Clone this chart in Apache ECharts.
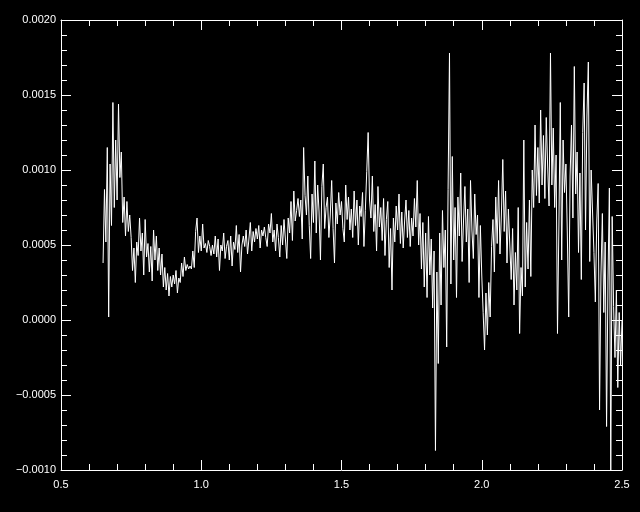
<!DOCTYPE html>
<html>
<head>
<meta charset="utf-8">
<script src="https://cdn.jsdelivr.net/npm/echarts@6/dist/echarts.min.js"></script>
<style>
html,body{margin:0;padding:0;background:#000;}
#chart{width:640px;height:512px;}
</style>
</head>
<body>
<div id="chart"></div>
<script>
// Wavelength samples (x) and measured signal (y)
var xValues = [
0.650,0.655,0.660,0.665,0.670,0.675,0.680,0.685,0.690,0.695,
0.700,0.705,0.710,0.715,0.720,0.725,0.730,0.735,0.740,0.745,
0.750,0.755,0.760,0.765,0.770,0.775,0.780,0.785,0.790,0.795,
0.800,0.805,0.810,0.815,0.820,0.825,0.830,0.835,0.840,0.845,
0.850,0.855,0.860,0.865,0.870,0.875,0.880,0.885,0.890,0.895,
0.900,0.905,0.910,0.915,0.920,0.925,0.930,0.935,0.940,0.945,
0.950,0.955,0.960,0.965,0.970,0.975,0.980,0.985,0.990,0.995,
1.000,1.005,1.010,1.015,1.020,1.025,1.030,1.035,1.040,1.045,
1.050,1.055,1.060,1.065,1.070,1.075,1.080,1.085,1.090,1.095,
1.100,1.105,1.110,1.115,1.120,1.125,1.130,1.135,1.140,1.145,
1.150,1.155,1.160,1.165,1.170,1.175,1.180,1.185,1.190,1.195,
1.200,1.205,1.210,1.215,1.220,1.225,1.230,1.235,1.240,1.245,
1.250,1.255,1.260,1.265,1.270,1.275,1.280,1.285,1.290,1.295,
1.300,1.305,1.310,1.315,1.320,1.325,1.330,1.335,1.340,1.345,
1.350,1.355,1.360,1.365,1.370,1.375,1.380,1.385,1.390,1.395,
1.400,1.405,1.410,1.415,1.420,1.425,1.430,1.435,1.440,1.445,
1.450,1.455,1.460,1.465,1.470,1.475,1.480,1.485,1.490,1.495,
1.500,1.505,1.510,1.515,1.520,1.525,1.530,1.535,1.540,1.545,
1.550,1.555,1.560,1.565,1.570,1.575,1.580,1.585,1.590,1.595,
1.600,1.605,1.610,1.615,1.620,1.625,1.630,1.635,1.640,1.645,
1.650,1.655,1.660,1.665,1.670,1.675,1.680,1.685,1.690,1.695,
1.700,1.705,1.710,1.715,1.720,1.725,1.730,1.735,1.740,1.745,
1.750,1.755,1.760,1.765,1.770,1.775,1.780,1.785,1.790,1.795,
1.800,1.805,1.810,1.815,1.820,1.825,1.830,1.835,1.840,1.845,
1.850,1.855,1.860,1.865,1.870,1.875,1.880,1.885,1.890,1.895,
1.900,1.905,1.910,1.915,1.920,1.925,1.930,1.935,1.940,1.945,
1.950,1.955,1.960,1.965,1.970,1.975,1.980,1.985,1.990,1.995,
2.000,2.005,2.010,2.015,2.020,2.025,2.030,2.035,2.040,2.045,
2.050,2.055,2.060,2.065,2.070,2.075,2.080,2.085,2.090,2.095,
2.100,2.105,2.110,2.115,2.120,2.125,2.130,2.135,2.140,2.145,
2.150,2.155,2.160,2.165,2.170,2.175,2.180,2.185,2.190,2.195,
2.200,2.205,2.210,2.215,2.220,2.225,2.230,2.235,2.240,2.245,
2.250,2.255,2.260,2.265,2.270,2.275,2.280,2.285,2.290,2.295,
2.300,2.305,2.310,2.315,2.320,2.325,2.330,2.335,2.340,2.345,
2.350,2.355,2.360,2.365,2.370,2.375,2.380,2.385,2.390,2.395,
2.400,2.405,2.410,2.415,2.420,2.425,2.430,2.435,2.440,2.445,
2.450,2.455,2.460,2.465,2.470,2.475,2.480,2.485,2.490,2.495,2.500
];
var yValues = [
3.8e-4,8.7e-4,5.2e-4,11.5e-4,0.2e-4,10.4e-4,6.3e-4,14.5e-4,7.5e-4,12.0e-4,
8.0e-4,14.4e-4,9.5e-4,11.2e-4,6.5e-4,8.2e-4,5.6e-4,7.9e-4,5.9e-4,7.0e-4,
5.5e-4,3.3e-4,4.8e-4,2.5e-4,5.2e-4,4.3e-4,6.8e-4,4.6e-4,5.8e-4,3.0e-4,
6.7e-4,4.2e-4,5.1e-4,3.2e-4,4.9e-4,2.6e-4,6.0e-4,4.0e-4,5.6e-4,3.3e-4,
4.8e-4,3.0e-4,4.4e-4,2.2e-4,3.5e-4,2.0e-4,3.1e-4,1.6e-4,2.9e-4,2.2e-4,
3.0e-4,2.4e-4,3.3e-4,1.8e-4,2.8e-4,2.5e-4,3.8e-4,2.9e-4,4.2e-4,3.3e-4,
3.7e-4,3.4e-4,3.6e-4,3.4e-4,4.6e-4,3.5e-4,5.9e-4,6.8e-4,4.5e-4,5.6e-4,
4.6e-4,6.4e-4,4.8e-4,5.1e-4,4.5e-4,5.3e-4,4.9e-4,4.3e-4,5.0e-4,4.4e-4,
5.6e-4,4.2e-4,5.4e-4,3.3e-4,5.0e-4,4.6e-4,5.8e-4,4.1e-4,4.9e-4,5.3e-4,
4.0e-4,5.6e-4,3.6e-4,5.2e-4,4.7e-4,6.3e-4,4.5e-4,5.7e-4,3.2e-4,5.0e-4,
5.6e-4,4.9e-4,6.0e-4,4.4e-4,5.4e-4,6.5e-4,4.6e-4,5.9e-4,5.2e-4,6.1e-4,
5.4e-4,6.3e-4,4.8e-4,6.0e-4,5.6e-4,6.2e-4,5.5e-4,4.9e-4,6.4e-4,5.8e-4,
7.1e-4,5.2e-4,6.0e-4,4.6e-4,6.4e-4,5.5e-4,4.2e-4,6.3e-4,5.0e-4,6.7e-4,
5.4e-4,4.1e-4,6.8e-4,5.8e-4,7.9e-4,5.3e-4,8.6e-4,6.6e-4,7.3e-4,8.1e-4,
6.9e-4,8.0e-4,5.4e-4,11.5e-4,8.3e-4,7.0e-4,9.6e-4,6.3e-4,4.1e-4,8.4e-4,
6.5e-4,10.6e-4,5.8e-4,9.0e-4,7.2e-4,4.0e-4,8.9e-4,10.4e-4,6.1e-4,7.5e-4,
8.2e-4,5.5e-4,7.0e-4,9.3e-4,6.1e-4,3.8e-4,7.8e-4,6.4e-4,8.5e-4,7.0e-4,
7.9e-4,6.1e-4,5.2e-4,9.0e-4,6.7e-4,8.2e-4,6.0e-4,7.4e-4,5.5e-4,8.6e-4,
6.3e-4,8.0e-4,5.0e-4,7.6e-4,6.9e-4,8.5e-4,4.9e-4,7.3e-4,9.9e-4,12.5e-4,
8.0e-4,6.8e-4,9.6e-4,5.9e-4,7.7e-4,4.6e-4,8.9e-4,6.2e-4,7.5e-4,5.3e-4,
8.1e-4,4.3e-4,6.7e-4,7.9e-4,3.5e-4,6.1e-4,2.0e-4,6.8e-4,5.2e-4,7.6e-4,
6.0e-4,8.4e-4,5.1e-4,7.2e-4,4.8e-4,6.6e-4,8.0e-4,5.5e-4,7.3e-4,4.9e-4,
6.8e-4,5.6e-4,8.1e-4,6.2e-4,9.3e-4,5.0e-4,7.1e-4,3.4e-4,6.5e-4,2.2e-4,
5.8e-4,1.5e-4,6.9e-4,3.0e-4,5.4e-4,0.8e-4,4.6e-4,-8.7e-4,3.2e-4,-2.9e-4,
5.8e-4,1.0e-4,7.3e-4,3.5e-4,6.0e-4,-1.8e-4,8.7e-4,17.8e-4,2.4e-4,10.9e-4,
4.0e-4,7.5e-4,1.5e-4,8.2e-4,5.6e-4,9.8e-4,3.9e-4,6.6e-4,8.9e-4,5.2e-4,
7.4e-4,2.5e-4,9.3e-4,6.0e-4,4.1e-4,8.4e-4,5.7e-4,7.0e-4,1.5e-4,6.3e-4,
3.0e-4,0.5e-4,-2.0e-4,1.8e-4,-1.0e-4,2.5e-4,0.2e-4,4.9e-4,6.7e-4,3.2e-4,
8.2e-4,5.1e-4,9.3e-4,4.4e-4,7.0e-4,10.7e-4,5.9e-4,8.6e-4,3.8e-4,7.4e-4,
5.0e-4,2.7e-4,6.1e-4,1.0e-4,4.5e-4,2.0e-4,7.5e-4,-0.9e-4,3.5e-4,1.6e-4,
12.0e-4,2.2e-4,6.5e-4,3.4e-4,8.0e-4,2.9e-4,10.0e-4,7.5e-4,13.0e-4,8.3e-4,
11.5e-4,7.8e-4,14.0e-4,9.0e-4,12.3e-4,8.1e-4,13.5e-4,10.2e-4,7.6e-4,17.8e-4,
9.0e-4,12.8e-4,7.5e-4,11.0e-4,-0.9e-4,6.2e-4,14.5e-4,4.0e-4,12.0e-4,8.5e-4,
10.4e-4,5.8e-4,0.2e-4,9.6e-4,13.0e-4,6.8e-4,16.9e-4,8.4e-4,11.2e-4,4.5e-4,
9.8e-4,2.7e-4,12.5e-4,15.8e-4,6.0e-4,13.6e-4,17.2e-4,3.9e-4,10.0e-4,7.2e-4,
4.5e-4,1.2e-4,6.6e-4,9.1e-4,-6.0e-4,3.0e-4,7.1e-4,0.5e-4,5.2e-4,-7.1e-4,
2.6e-4,8.8e-4,-10.0e-4,6.9e-4,0.9e-4,-2.5e-4,2.0e-4,-4.5e-4,0.5e-4,-3.0e-4,0.0e-4
];
var xTickValues = [0.5, 1.0, 1.5, 2.0, 2.5];
var yTickValues = [-0.0010, -0.0005, 0.0000, 0.0005, 0.0010, 0.0015, 0.0020];

var points = xValues.map(function (x, i) { return [x, yValues[i]]; });

var FG = '#ffffff';
var FONT = 'Liberation Sans, Arial, sans-serif';

function xFmt(v) { return v.toFixed(1); }
function yFmt(v) {
  var s = Math.abs(v).toFixed(4);
  if (v < -1e-9) s = '\u2212' + s;
  return s;
}

function xAxisCfg(pos, showLabels) {
  return {
    type: 'value', position: pos,
    min: xTickValues[0], max: xTickValues[xTickValues.length - 1], interval: 0.5,
    axisLine: { show: true, onZero: false, lineStyle: { color: FG, width: 1 } },
    axisTick: { show: true, inside: true, length: 10, lineStyle: { color: FG } },
    minorTick: { show: true, splitNumber: 5, length: 6, lineStyle: { color: FG } },
    splitLine: { show: false },
    axisLabel: { show: showLabels, color: FG, fontFamily: FONT, fontSize: 11, margin: 9, formatter: xFmt }
  };
}
function yAxisCfg(pos, showLabels) {
  return {
    type: 'value', position: pos,
    min: yTickValues[0], max: yTickValues[yTickValues.length - 1], interval: 0.0005,
    axisLine: { show: true, onZero: false, lineStyle: { color: FG, width: 1 } },
    axisTick: { show: true, inside: true, length: 10, lineStyle: { color: FG } },
    minorTick: { show: true, splitNumber: 5, length: 6, lineStyle: { color: FG } },
    splitLine: { show: false },
    axisLabel: { show: showLabels, color: FG, fontFamily: FONT, fontSize: 11, margin: 5, formatter: yFmt }
  };
}

var chart = echarts.init(document.getElementById('chart'), null, { renderer: 'canvas' });
chart.setOption({
  backgroundColor: '#000000',
  animation: false,
  grid: { left: 61, right: 18, top: 20, bottom: 42, containLabel: false },
  xAxis: [xAxisCfg('bottom', true), xAxisCfg('top', false)],
  yAxis: [yAxisCfg('left', true), yAxisCfg('right', false)],
  series: [{
    type: 'line',
    xAxisIndex: 0, yAxisIndex: 0,
    data: points,
    showSymbol: false,
    symbol: 'none',
    clip: true,
    lineStyle: { color: FG, width: 1 }
  }]
});
</script>
</body>
</html>
